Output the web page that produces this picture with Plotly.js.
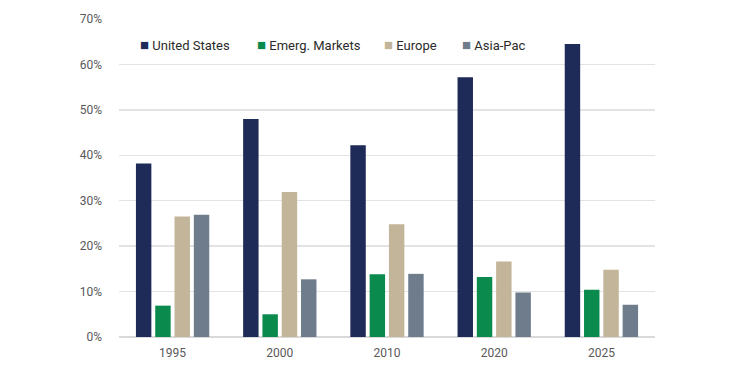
<!DOCTYPE html>
<html><head><meta charset="utf-8">
<script src="https://cdn.plot.ly/plotly-3.0.1.min.js"></script>
<style>html,body{margin:0;padding:0;background:#fff}#chart{width:744px;height:374px}</style>
</head><body><div id="chart"></div>
<script>
const categories = ["1995", "2000", "2010", "2020", "2025"];
const unitedStates = [38.2, 48.0, 42.2, 57.2, 64.5];
const emergMarkets = [6.9, 5.0, 13.8, 13.2, 10.4];
const europe = [26.5, 31.9, 24.8, 16.6, 14.8];
const asiaPac = [26.9, 12.7, 13.9, 9.8, 7.1];
const seriesNames = ["United States", "Emerg. Markets", "Europe", "Asia-Pac"];
const seriesColors = ["#1e2a57", "#0b8a4e", "#c3b59a", "#6f7c8c"];
const tickVals = [0, 10, 20, 30, 40, 50, 60, 70];
const tickText = ["0%", "10%", "20%", "30%", "40%", "50%", "60%", "70%"];

const values = [unitedStates, emergMarkets, europe, asiaPac];
const data = values.map((v, i) => ({
  type: "bar", x: categories, y: v, name: seriesNames[i],
  marker: {color: seriesColors[i]}, hoverinfo: "skip", showlegend: false
}));

// legend entries drawn as annotations (left edge of each entry, paper coords)
const legendX = [0.037, 0.2555, 0.4925, 0.638];
const annotations = seriesNames.map((n, i) => ({
  xref: "paper", yref: "paper", x: legendX[i], y: 0.918,
  xanchor: "left", yanchor: "middle", showarrow: false, borderpad: 0,
  text: '<span style="color:' + seriesColors[i] + ';font-size:15px">■</span> ' + n,
  font: {size: 13, color: "#2b2b2b"}
}));

const layout = {
  width: 744, height: 374,
  margin: {l: 119, r: 89, t: 19, b: 37},
  paper_bgcolor: "#fff", plot_bgcolor: "#fff",
  barmode: "group", bargap: 0.28, bargroupgap: 0.2,
  font: {family: "Roboto, 'Noto Sans', sans-serif", size: 12, color: "#595959"},
  xaxis: {type: "category", showgrid: false, zeroline: false, showline: false,
    ticks: "", tickfont: {size: 12, color: "#595959"}, ticklabelstandoff: 7},
  yaxis: {range: [0, 70], tickvals: tickVals, ticktext: tickText,
    showgrid: true, gridcolor: "#e3e3e3", gridwidth: 1.5, zeroline: true, zerolinecolor: "#d9d9d9", zerolinewidth: 1.5,
    showline: false, ticks: "", tickfont: {size: 12, color: "#595959"}, ticklabelstandoff: 16},
  annotations: annotations,
  showlegend: false
};
Plotly.newPlot("chart", data, layout, {displayModeBar: false, staticPlot: true});
</script></body></html>
